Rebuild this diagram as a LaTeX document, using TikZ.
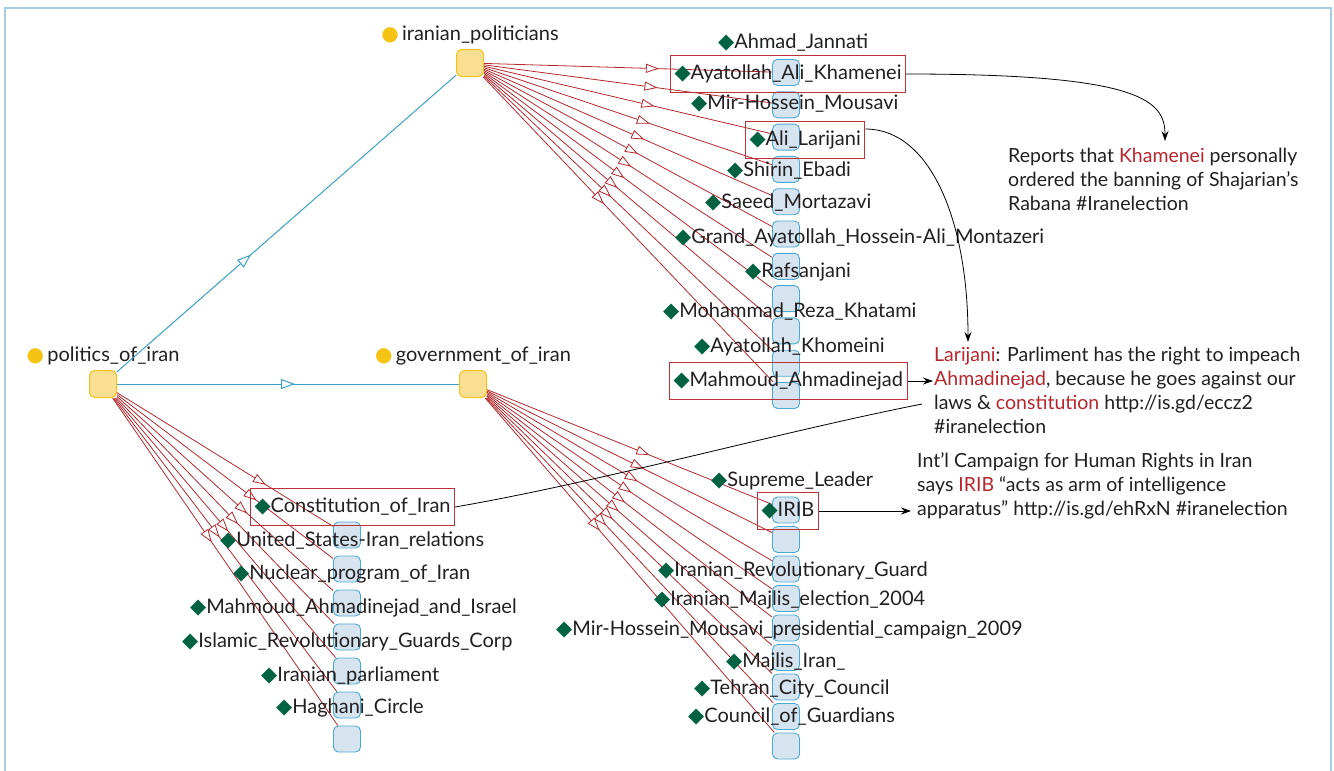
\documentclass[tikz,border=0pt]{standalone}
\usepackage{fontspec}
\setmainfont{Lato}
\newfontfamily\symfont{DejaVu Sans}
\usetikzlibrary{arrows.meta,positioning,decorations.markings}

\definecolor{textgray}{RGB}{35,31,32}
\definecolor{linkred}{RGB}{180,40,45}
\definecolor{boxred}{RGB}{190,50,55}
\definecolor{hilite}{RGB}{183,38,45}
\definecolor{dgreen}{RGB}{0,98,65}
\definecolor{topicfill}{RGB}{250,222,145}
\definecolor{topicborder}{RGB}{240,195,30}
\definecolor{memberfill}{RGB}{214,228,240}
\definecolor{memberborder}{RGB}{75,170,210}
\definecolor{subblue}{RGB}{60,160,200}
\definecolor{dotyellow}{RGB}{245,195,20}
\definecolor{framecol}{RGB}{170,204,227}

\newcommand{\gem}{{\color{dgreen}\fontsize{21pt}{21pt}\symfont ◆}}
\newcommand{\sun}{{\color{dotyellow}\fontsize{20pt}{20pt}\symfont ●}\,}
\newcommand{\hl}[1]{\textcolor{hilite}{#1}}

\tikzset{
  topic/.style={rectangle, rounded corners=5pt, draw=topicborder, fill=topicfill, minimum size=27pt, line width=1pt},
  topiclabel/.style={inner sep=1pt},
  member/.style={rectangle, rounded corners=5pt, draw=memberborder, fill=memberfill, minimum width=27pt, minimum height=26pt, line width=0.9pt},
  entity/.style={anchor=west, inner xsep=1pt, inner ysep=2pt},
  boxed/.style={draw=boxred, line width=1pt, inner xsep=4pt, minimum height=37pt},
  link/.style={draw=linkred, line width=0.8pt, postaction={decorate},
    decoration={markings, mark=at position 175pt with {\arrow[linkred]{Triangle[fill=white,length=13pt,width=9pt]}}}},
  sublink/.style={draw=subblue, line width=1pt, postaction={decorate},
    decoration={markings, mark=at position 178pt with {\arrow[subblue]{Triangle[fill=white,length=14pt,width=10pt]}}}},
  note/.style={align=left, anchor=north west, inner sep=0pt, font=\fontsize{19.5pt}{24pt}\selectfont},
  pointer/.style={draw=black, line width=0.8pt, -{Stealth[length=10pt,width=7pt]}}
}

\begin{document}
\begin{tikzpicture}[x=1pt,y=-1pt, font=\fontsize{20pt}{24pt}\selectfont, text=textgray]
\useasboundingbox (0,0) rectangle (1334,771);
\draw[framecol, line width=1.5pt] (5,8) rectangle (1331,800);

% Topics
\node[topic] (politics) at (103,384) {};
\node[topic] (ipol) at (470,63) {};
\node[topic] (gov) at (473,384) {};
\node[topiclabel, above=4pt of politics] (politicslabel) {\sun politics\_of\_iran};
\node[topiclabel, above=4pt of ipol] (ipollabel) {\sun iranian\_politicians};
\node[topiclabel, above=4pt of gov] (govlabel) {\sun government\_of\_iran};

% Member squares
\foreach \i in {0,...,10} \node[member] (p\i) at (786,{72.5+32.3*\i}) {};
\foreach \i in {0,...,6} \node[member] (c\i) at (347,{535+34*\i}) {};
\foreach \i in {0,...,8} \node[member] (g\i) at (786,{510+29.5*\i}) {};

% Edges
\draw[sublink] (politics) -- (ipol);
\draw[sublink] (politics) -- (gov);
\foreach \i in {0,...,10} \draw[link] (ipol) -- (p\i);
\foreach \i in {0,...,6} \draw[link] (politics) -- (c\i);
\foreach \i in {0,...,8} \draw[link] (gov) -- (g\i);

% Politicians
\node[entity] (jannati) at (717,43) {\gem Ahmad\_Jannati};
\node[entity, boxed] (khamenei) at (670,74) {\gem Ayatollah\_Ali\_Khamenei};
\node[entity] (mousavi) at (690,104) {\gem Mir-Hossein\_Mousavi};
\node[entity, boxed] (larijani) at (745,140) {\gem Ali\_Larijani};
\node[entity] (ebadi) at (726,171) {\gem Shirin\_Ebadi};
\node[entity] (mortazavi) at (704,203) {\gem Saeed\_Mortazavi};
\node[entity] (montazeri) at (674,238) {\gem Grand\_Ayatollah\_Hossein-Ali\_Montazeri};
\node[entity] (rafsanjani) at (744,272) {\gem Rafsanjani};
\node[entity] (khatami) at (662,312) {\gem Mohammad\_Reza\_Khatami};
\node[entity] (khomeini) at (693,347) {\gem Ayatollah\_Khomeini};
\node[entity, boxed] (ahmadinejad) at (669,381) {\gem Mahmoud\_Ahmadinejad};

% Politics of Iran
\node[entity, boxed] (constitution) at (250,507) {\gem Constitution\_of\_Iran};
\node[entity] (usrelations) at (219,541) {\gem United\_States-Iran\_relations};
\node[entity] (nuclear) at (232,574) {\gem Nuclear\_program\_of\_Iran};
\node[entity] (israel) at (189,608) {\gem Mahmoud\_Ahmadinejad\_and\_Israel};
\node[entity] (irgc) at (181,642) {\gem Islamic\_Revolutionary\_Guards\_Corp};
\node[entity] (parliament) at (260,676) {\gem Iranian\_parliament};
\node[entity] (haghani) at (275,708) {\gem Haghani\_Circle};

% Government of Iran
\node[entity] (supreme) at (710,481) {\gem Supreme\_Leader};
\node[entity, boxed] (irib) at (757,511) {\gem IRIB};
\node[entity] (guard) at (657,571) {\gem Iranian\_Revolutionary\_Guard};
\node[entity] (majliselection) at (653,600) {\gem Iranian\_Majlis\_election\_2004};
\node[entity] (campaign) at (555,630) {\gem Mir-Hossein\_Mousavi\_presidential\_campaign\_2009};
\node[entity] (majlis) at (725,662) {\gem Majlis\_Iran\_};
\node[entity] (tehran) at (693,689) {\gem Tehran\_City\_Council};
\node[entity] (guardians) at (687,717) {\gem Council\_of\_Guardians};

% Tweets
\node[note] (reports) at (1008,148) {Reports that \hl{Khamenei} personally\\ordered the banning of Shajarian's\\Rabana \#Iranelection};
\node[note] (impeach) at (934,347) {\hl{Larijani}: Parliment has the right to impeach\\\hl{Ahmadinejad}, because he goes against our\\laws \& \hl{constitution} http://is.gd/eccz2\\\#iranelection};
\node[note] (irgcnote) at (917,452) {Int’l Campaign for Human Rights in Iran\\says \hl{IRIB} “acts as arm of intelligence\\apparatus” http://is.gd/ehRxN \#iranelection};

\coordinate (reportstip) at (1165,141);
\coordinate (impeachtip) at (968,342);
\coordinate (ahmadtip) at (933,381);
\coordinate (constend) at (922,404);
\coordinate (iribtip) at (911,511);

% Pointers
\draw[pointer] (khamenei.east) .. controls (1140,74) and (1165,100) .. (reportstip);
\draw[pointer] ([yshift=11pt]larijani.east) .. controls (930,129) and (968,220) .. (impeachtip);
\draw[pointer] (ahmadinejad.east) -- (ahmadtip);
\draw[draw=black, line width=0.8pt] (constitution.east) .. controls (600,482) and (780,432) .. (constend);
\draw[pointer] (irib.east) -- (iribtip);
\end{tikzpicture}
\end{document}
